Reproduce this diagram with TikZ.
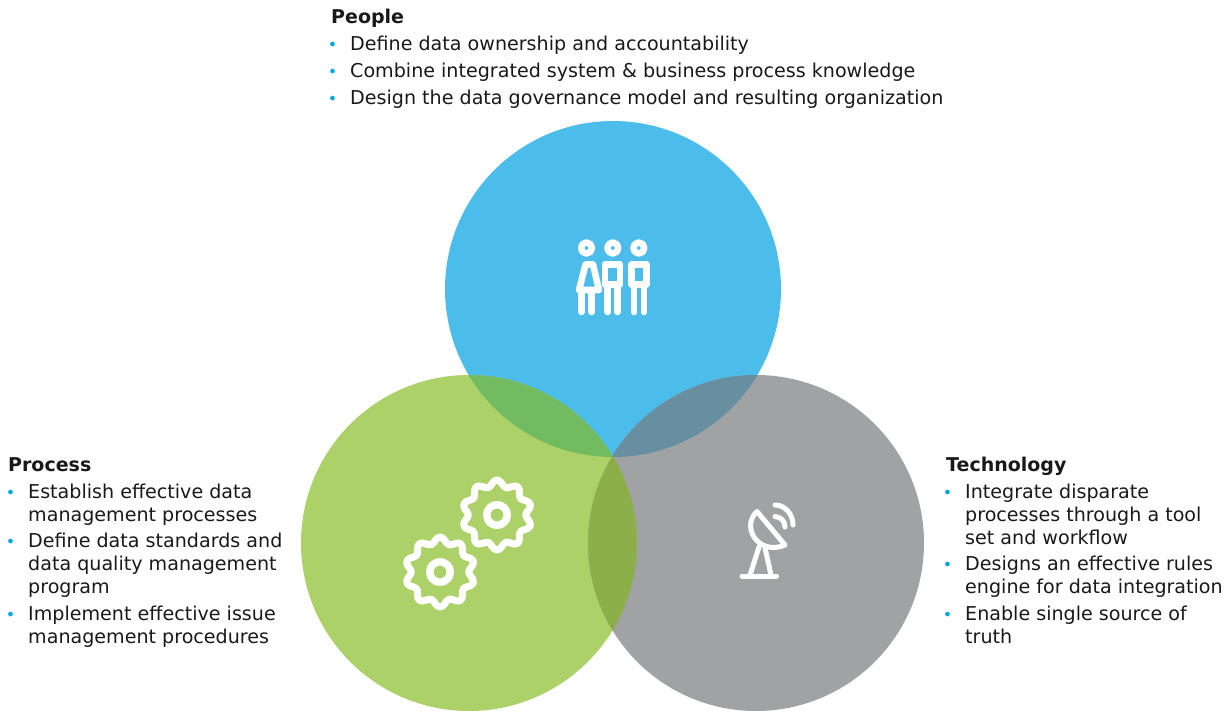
\documentclass[tikz,border=0pt]{standalone}
\usepackage{fontspec}
\setmainfont{DejaVu Sans}
\definecolor{blue}{HTML}{4CBDEB}
\definecolor{green}{HTML}{ACD168}
\definecolor{gray}{HTML}{A0A2A3}
\definecolor{bluegreen}{HTML}{72BB60}
\definecolor{bluegray}{HTML}{678FA0}
\definecolor{greengray}{HTML}{8DAF4A}
\definecolor{bullet}{HTML}{00A7E0}
\newcommand{\itm}{\strut\llap{\textcolor{bullet}{\fontsize{16}{16}\selectfont•}\hspace{13pt}}}
\tikzset{
	venn/.style={circle,inner sep=0pt,minimum size=336pt},
	head/.style={font=\fontsize{19}{23}\selectfont\bfseries,text=black!90,anchor=north west,inner sep=0pt},
	entry/.style={font=\fontsize{19.1}{23}\selectfont,text=black!90,anchor=north west,inner sep=0pt,align=left},
	icon/.style={draw=white,line width=6.5pt,line cap=round,line join=round},
	thin icon/.style={draw=white,line width=5pt,line cap=round,line join=round}
}
\begin{document}
\begin{tikzpicture}[x=1pt,y=-1pt]
	\useasboundingbox (0,0) rectangle (1231,711);

	% circles
	\node[venn,fill=blue] (people) at (613,289) {};
	\node[venn,fill=green] (process) at (469,543) {};
	\node[venn,fill=gray] (technology) at (756,543) {};

	% overlaps
	\begin{scope}
		\clip (people.center) circle (168pt);
		\fill[bluegreen] (process.center) circle (168pt);
	\end{scope}
	\begin{scope}
		\clip (people.center) circle (168pt);
		\fill[bluegray] (technology.center) circle (168pt);
	\end{scope}
	\begin{scope}
		\clip (process.center) circle (168pt);
		\fill[greengray] (technology.center) circle (168pt);
	\end{scope}

	% people icon
	\foreach \x in {586.5,612.8,638.8} \draw[icon,line width=6.5pt] (\x,248) circle (5.5pt);
	\draw[icon] (585.5,264.5) -- (593,264.5) -- (599,290) -- (579,290) -- cycle;
	\foreach \x in {581.7,591.7} \draw[icon] (\x,290) -- (\x,312);
	\foreach \x in {605,631.5} {
		\draw[icon] (\x,264.5) rectangle ++(15,20);
		\draw[icon] (\x+2.7,284.5) -- (\x+2.7,312);
		\draw[icon] (\x+12.3,284.5) -- (\x+12.3,312);
	}

	% gear icons
	\foreach \cx/\cy in {497/515,440/572} {
		\draw[icon,line width=7pt] plot[smooth cycle,samples=61,domain=0:354,variable=\t] ({\cx+(31.8+3.2*cos(10*(\t-18)))*cos(\t)},{\cy+(31.8+3.2*cos(10*(\t-18)))*sin(\t)});
		\draw[icon,line width=7.5pt] (\cx,\cy) circle (10.3pt);
	}

	% dish icon
	\draw[thin icon] (757,511.5) -- (785,545) .. controls (772,551) and (757,546) .. (752,533) .. controls (749,525) and (751,517) .. cycle;
	\draw[thin icon] (759,547) -- (750,575);
	\draw[thin icon] (765,548) -- (771,575);
	\draw[thin icon] (742,576) -- (776.5,576);
	\draw[thin icon] (775,516.5) .. controls (781,517) and (785,521) .. (785,527);
	\draw[thin icon] (775,505) .. controls (785,505) and (793,514) .. (793,525);

	% people text
	\node[head] (peoplehead) at (331,7.7) {\strut People};
	\node[entry] (people1) at (350,34.7) {\itm Define data ownership and accountability};
	\node[entry] (people2) at (350,61.7) {\itm Combine integrated system \& business process knowledge};
	\node[entry] (people3) at (350,88.7) {\itm Design the data governance model and resulting organization};

	% process text
	\node[head] (processhead) at (8,454.7) {\strut Process};
	\node[entry] (process1) at (28,481.7) {\itm Establish effective data\\management processes};
	\node[entry] (process2) at (28,530.7) {\itm Define data standards and\\data quality management\\program};
	\node[entry] (process3) at (28,603.7) {\itm Implement effective issue\\management procedures};

	% technology text
	\node[head] (technologyhead) at (946,454.7) {\strut Technology};
	\node[entry] (technology1) at (965,481.7) {\itm Integrate disparate\\processes through a tool\\set and workflow};
	\node[entry] (technology2) at (965,553.7) {\itm Designs an effective rules\\engine for data integration};
	\node[entry] (technology3) at (965,603.7) {\itm Enable single source of\\truth};
\end{tikzpicture}
\end{document}
